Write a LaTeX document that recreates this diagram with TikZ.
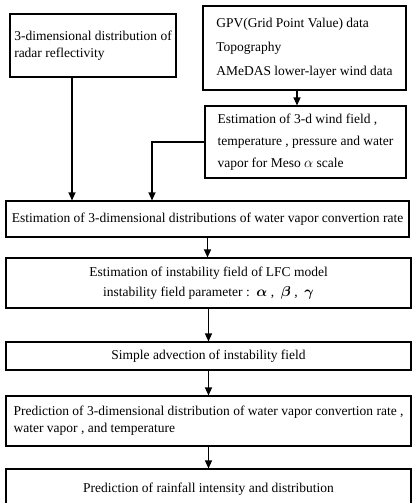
\documentclass[tikz,border=0pt]{standalone}
\usepackage{amsmath, bm}
\usepackage{fontspec}
\setmainfont{Liberation Serif}
\usepackage{tikz}
\usetikzlibrary{arrows.meta}

\begin{document}
\begin{tikzpicture}[x=1pt, y=-1pt,
    box/.style={draw, line width=1.1pt, inner sep=0pt, font=\fontsize{13.5}{17}\selectfont},
    flow/.style={line width=1.1pt, -{Triangle[length=8pt, width=7pt]}}]
            \useasboundingbox (0,0) rectangle (413,503);
            \clip (0,0) rectangle (413,503);
            % Nodes
            \node[box, align=left, minimum width=166pt, minimum height=63pt] (radar) at (93, 45.5)
                {3-dimensional distribution of\\radar reflectivity};
            \node[box, align=left, minimum width=203pt, minimum height=84pt] (gpv) at (304.5, 48)
                {GPV(Grid Point Value) data\\[7pt]Topography\\[7pt]AMeDAS lower-layer wind data};
            \node[box, align=left, minimum width=201pt, minimum height=72pt] (wind) at (305.5, 142)
                {Estimation of 3-d wind field ,\\[5pt]temperature , pressure and water\\[5pt]vapor for Meso $\alpha$ scale};
            \node[box, minimum width=403pt, minimum height=36pt] (conv) at (207.5, 219)
                {Estimation of 3-dimensional distributions of water vapor convertion rate};
            \node[box, align=center, minimum width=405pt, minimum height=50pt] (lfc) at (208.5, 283)
                {Estimation of instability field of LFC model\\[3pt]instability field parameter :\ \ $\bm{\alpha}$ ,\ \ $\bm{\beta}$ ,\ \ $\bm{\gamma}$};
            \node[box, minimum width=405pt, minimum height=28pt] (adv) at (208.5, 356)
                {Simple advection of instability field};
            \node[box, align=left, minimum width=405pt, minimum height=50pt] (pred) at (208.5, 421)
                {Prediction of 3-dimensional distribution of water vapor convertion rate ,\\water vapor , and temperature};
            \node[box, minimum width=405pt, minimum height=40pt] (rain) at (208.5, 489)
                {Prediction of rainfall intensity and distribution};
            % Edges
            \coordinate (radarx) at (72, 0);
            \coordinate (gpvx) at (297, 0);
            \coordinate (windx) at (152, 0);
            \draw[flow] (radar.south -| radarx) -- (conv.north -| radarx);
            \draw[flow] (gpv.south -| gpvx) -- (wind.north -| gpvx);
            \draw[flow] (wind.west) -| (conv.north -| windx);
            \draw[flow] (conv.south) -- (conv.south |- lfc.north);
            \draw[flow] (lfc.south) -- (lfc.south |- adv.north);
            \draw[flow] (adv.south) -- (adv.south |- pred.north);
            \draw[flow] (pred.south) -- (pred.south |- rain.north);
        \end{tikzpicture}
\end{document}
